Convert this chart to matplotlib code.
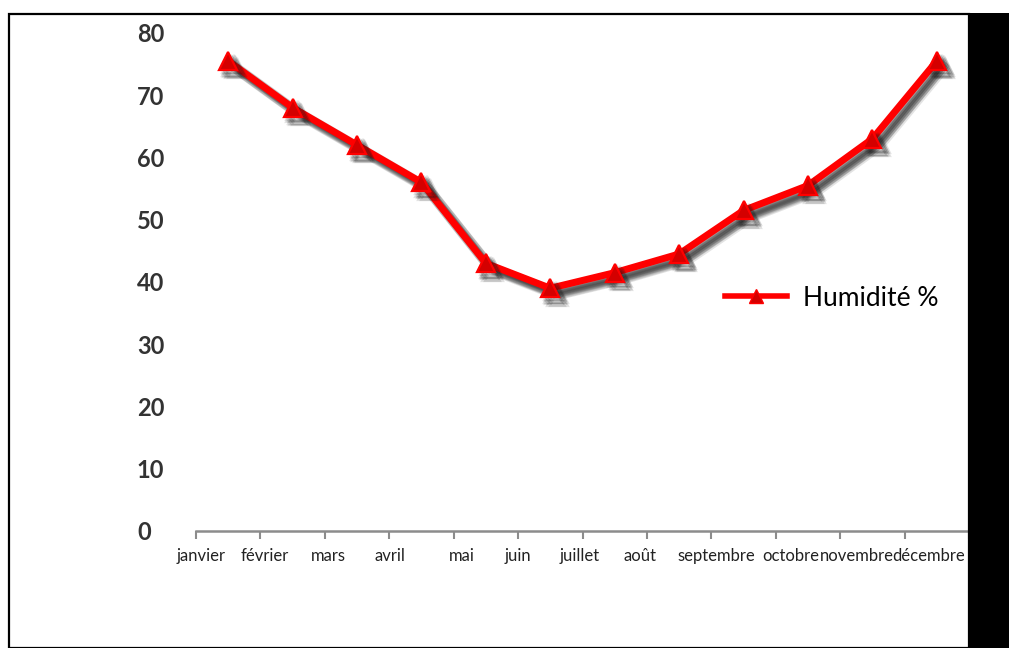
import matplotlib
matplotlib.use("Agg")
import matplotlib.pyplot as plt
import matplotlib.patheffects as pe
from matplotlib.patches import Rectangle
from matplotlib.lines import Line2D

# Monthly relative humidity
months = ["janvier", "février", "mars", "avril", "mai", "juin", "juillet",
          "août", "septembre", "octobre", "novembre", "décembre"]
humidity = [75.5, 68, 62, 56, 43, 39, 41.5, 44.5, 51.5, 55.5, 63, 75.5]
yticks = [0, 10, 20, 30, 40, 50, 60, 70, 80]
series_name = "Humidité %"

plt.rcParams["font.family"] = ["Lato", "DejaVu Sans"]

fig = plt.figure(figsize=(10.09, 6.48), dpi=100)
fig.patch.set_facecolor("white")
ax = fig.add_axes([196 / 1009, 1 - 531 / 648, 773 / 1009, 498 / 648])

x = list(range(len(months)))

# soft drop shadow: several faint copies at slightly different offsets
offsets = [(2, -2), (3, -3), (4, -4), (5, -5), (6, -6), (3, -5), (5, -3),
           (4, -2), (2, -4), (6, -4), (4, -6)]
shadow = [pe.SimpleLineShadow(offset=o, shadow_color="#1a1a1a", alpha=0.12) for o in offsets]
ax.plot(x, humidity, color="#ff0000", lw=5.0, marker="^", markersize=13,
        markerfacecolor="#d40000", markeredgecolor="#ff0000", markeredgewidth=1.6,
        path_effects=shadow + [pe.Normal()], zorder=3)

ax.set_xlim(-0.5, len(months) - 0.5)
ax.set_ylim(0, 80)

# category axis: ticks between categories, labels set under the ticks
ax.set_xticks([i - 0.5 for i in range(len(months) + 1)])
ax.set_xticklabels([])
ax.tick_params(axis="x", length=6, width=1.5, color="#8c8c8c", direction="out")
label_shift = [0.08, 0.06, 0.05, 0.01, 0.13, 0.0, -0.04, -0.11, 0.08, 0.24, 0.26, 0.38]
for i, (m, s) in enumerate(zip(months, label_shift)):
    ax.text(i - 0.5 + s, -0.034, m, transform=ax.get_xaxis_transform(),
            ha="center", va="top", fontsize=12, color="#222222")

ax.set_yticks(yticks)
ax.set_yticklabels([str(v) for v in yticks], fontsize=17, fontweight="bold",
                   color="#333333")
ax.tick_params(axis="y", length=0, pad=42.5)
for lab in ax.get_yticklabels():
    lab.set_horizontalalignment("left")

for side in ["top", "right", "left"]:
    ax.spines[side].set_visible(False)
ax.spines["bottom"].set_color("#8c8c8c")
ax.spines["bottom"].set_linewidth(1.8)

handle = Line2D([], [], color="#ff0000", lw=4.0, marker="^", markersize=10,
                markerfacecolor="#d40000", markeredgecolor="#ff0000")
fig.legend([handle], [series_name], loc="center left",
           bbox_to_anchor=(701 / 1009, 1 - 298 / 648), frameon=False,
           fontsize=19, handlelength=2.35, handletextpad=0.6)

# frame and right-hand black band
fig.add_artist(Rectangle((9 / 1009, 0), 960 / 1009, 1 - 14 / 648, transform=fig.transFigure,
                         fill=False, edgecolor="black", lw=1.6, zorder=10))
fig.add_artist(Rectangle((968 / 1009, 0), 41 / 1009, 1 - 13 / 648, transform=fig.transFigure,
                         facecolor="black", edgecolor="none", zorder=11))

fig.savefig("out.png", dpi=100, facecolor="white")
